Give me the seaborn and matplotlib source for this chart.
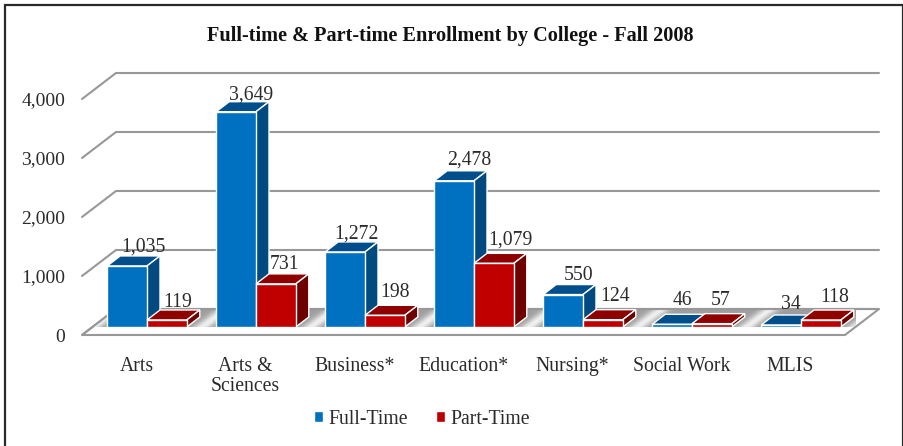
import numpy as np
import pandas as pd
import seaborn as sns
import matplotlib.pyplot as plt
from matplotlib.patches import Polygon, Rectangle
from matplotlib.transforms import ScaledTranslation

COLLEGES = ["Arts", "Arts &\nSciences", "Business*", "Education*", "Nursing*", "Social Work", "MLIS"]
FULL_TIME = [1035, 3649, 1272, 2478, 550, 46, 34]
PART_TIME = [119, 731, 198, 1079, 124, 57, 118]
YTICKS = [0, 1000, 2000, 3000, 4000]

# label nudges in pixels, one per bar
FULL_NUDGE = [(16, 19), (15, 17), (11, 18), (15, 21), (15, 19), (10, 24), (10, 20)]
PART_NUDGE = [(11, 17), (9, 19), (10, 23), (17, 23), (12, 23), (9, 23), (14, 23)]

DPI = 100
W, H = 904, 446
LEFT, BOTTOM, AX_W, AX_H = 92.5, 327, 763, 236
TEXT = "#2b2b2b"
GRID = "#989898"

sns.set_theme(style="white")
plt.rcParams["font.family"] = ["Liberation Serif", "DejaVu Serif"]

df = pd.DataFrame({
    "college": COLLEGES * 2,
    "count": FULL_TIME + PART_TIME,
    "status": ["Full-Time"] * 7 + ["Part-Time"] * 7,
})

fig = plt.figure(figsize=(W / DPI, H / DPI), dpi=DPI)
ax = fig.add_axes([LEFT / W, 1 - BOTTOM / H, AX_W / W, AX_H / H])
sns.barplot(data=df, x="college", y="count", hue="status", ax=ax, width=0.73, gap=0,
            palette=["#0070C0", "#C00000"], edgecolor="white", linewidth=1, saturation=1)
ax.set_xlim(-0.5, 6.5)
ax.set_ylim(0, 4000)
ax.set_xlabel("")
ax.set_ylabel("")
ax.patch.set_visible(False)
for s in ax.spines.values():
    s.set_visible(False)

# pixel -> data
px = 7 / AX_W
py = 4000 / AX_H
back = (23.5 * px, 18 * py)
front = (-10.5 * px, -8 * py)
depth = (13 * px, 10 * py)

# back wall grid and left wall diagonals
for v in YTICKS:
    ax.plot([-0.5 + front[0], -0.5 + back[0], 6.5 + back[0]],
            [v + front[1], v + back[1], v + back[1]],
            color=GRID, lw=1.5, clip_on=False, zorder=1, solid_joinstyle="miter")

# floor
floor_pts = [(-0.5 + front[0], front[1]), (6.5 + front[0], front[1]),
             (6.5 + back[0], back[1]), (-0.5 + back[0], back[1])]
xs = np.linspace(-0.5 + front[0], 6.5 + back[0], 900)
rows = np.linspace(0, 1, 30)
shift = (xs[None, :] - rows[:, None] * (back[0] - front[0]) - front[0]) % 1
shade = 0.62 + 0.32 * np.exp(-((shift - 0.5) / 0.08) ** 2)
im = ax.imshow(shade, cmap="gray", vmin=0, vmax=1, aspect="auto", origin="lower", zorder=1.5,
               extent=(xs[0], xs[-1], front[1], back[1]))
floor = Polygon(floor_pts, closed=True, fc="none", ec=GRID, lw=1.5, clip_on=False, zorder=1.6)
ax.add_patch(floor)
im.set_clip_path(floor)
im.set_clip_box(None)
ax.set_xlim(-0.5, 6.5)
ax.set_ylim(0, 4000)

# 3d faces built off the seaborn bars
shades = [("#004F8C", "#004A80"), ("#8F0000", "#6E0000")]
nudges = [FULL_NUDGE, PART_NUDGE]
for k, cont in enumerate(ax.containers):
    for i, bar in enumerate(cont):
        x0, w, h = bar.get_x(), bar.get_width(), bar.get_height()
        x1 = x0 + w
        z = 3 + k
        bar.set_zorder(z + 0.2)
        top = [(x0, h), (x1, h), (x1 + depth[0], h + depth[1]), (x0 + depth[0], h + depth[1])]
        side = [(x1, 0), (x1 + depth[0], depth[1]), (x1 + depth[0], h + depth[1]), (x1, h)]
        ax.add_patch(Polygon(top, closed=True, fc=shades[k][0], ec="white", lw=1, clip_on=False, zorder=z))
        ax.add_patch(Polygon(side, closed=True, fc=shades[k][1], ec="white", lw=1, clip_on=False, zorder=z))
        dx, dy = nudges[k][i]
        ax.annotate(f"{h:,.0f}", (x0 + w / 2, h), xytext=(dx * 72 / DPI, dy * 72 / DPI),
                    textcoords="offset points", ha="center", va="center",
                    fontsize=14.2, color=TEXT, zorder=8, annotation_clip=False)

ax.set_yticks(YTICKS, [f"{v:,}" for v in YTICKS])
ax.tick_params(axis="y", length=0, pad=27.5 * 72 / DPI, labelsize=14, labelcolor=TEXT)
ax.tick_params(axis="x", length=0, pad=30 * 72 / DPI, labelsize=14.2, labelcolor=TEXT)
for lab in ax.get_yticklabels():
    lab.set_transform(lab.get_transform() + ScaledTranslation(0, -8 / DPI, fig.dpi_scale_trans))
for lab in ax.get_xticklabels():
    lab.set_transform(lab.get_transform() + ScaledTranslation(-10.5 / DPI, 0, fig.dpi_scale_trans))
    lab.set_linespacing(1.1)

sns.move_legend(ax, "center", bbox_to_anchor=(422 / W, 1 - 419 / H), bbox_transform=fig.transFigure,
                ncol=2, title=None, frameon=False, fontsize=14.2, handlelength=0.45, handleheight=0.45,
                handletextpad=0.27, columnspacing=1.4, labelcolor=TEXT)

fig.suptitle("Full-time & Part-time Enrollment by College - Fall 2008", x=450 / W, y=1 - 36 / H,
             va="center", ha="center", fontsize=14.55, fontweight="bold", color="#111111")

# outer frame, open at the bottom edge
frame = Rectangle((5 / W, -0.05), 898 / W, 1.05 - 5 / H, transform=fig.transFigure,
                  fc="none", ec="#2a2a2a", lw=1.6, clip_on=False)
fig.add_artist(frame)

fig.savefig("out.png", dpi=DPI)
